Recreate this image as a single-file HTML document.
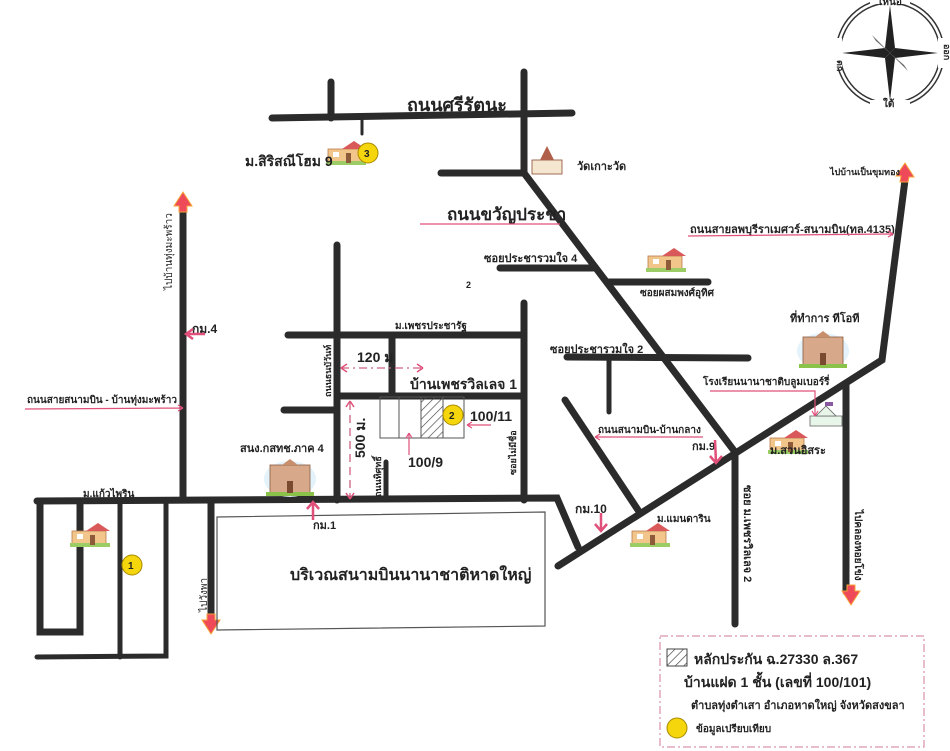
<!DOCTYPE html>
<html><head><meta charset="utf-8"><style>
html,body{margin:0;padding:0;background:#fff}
svg{display:block}
text{font-family:"Liberation Sans","Noto Sans CJK SC","WenQuanYi Zen Hei",sans-serif;fill:#222}
.r{stroke:#2b2b2b;stroke-width:7;stroke-linecap:round;fill:none}
.t{stroke:#2b2b2b;stroke-width:5;stroke-linecap:round;fill:none}
.p{stroke:#e0507a;stroke-width:1.2;fill:none}
.pa{stroke:#e0507a;stroke-width:2.5;fill:none}
</style></head><body>
<svg width="950" height="751" viewBox="0 0 950 751" xmlns="http://www.w3.org/2000/svg">
<defs>
<pattern id="h" width="6" height="6" patternUnits="userSpaceOnUse" patternTransform="rotate(45)"><line x1="0" y1="0" x2="0" y2="6" stroke="#444" stroke-width="1.3"/></pattern>
<g id="house"><rect x="0" y="6" width="34" height="14" fill="#f2c58a" stroke="#b87a4a" stroke-width="0.8"/><polygon points="14,6 26,-2 38,6" fill="#d9585a"/><rect x="-2" y="18" width="40" height="4" fill="#9ccc65"/><rect x="5" y="9" width="6" height="5" fill="#fff"/><rect x="18" y="10" width="5" height="10" fill="#8d5a3a"/></g>
<g id="bldg"><ellipse cx="20" cy="14" rx="26" ry="18" fill="#e3f2fb"/><rect x="0" y="0" width="40" height="28" fill="#d7a98a" stroke="#8a5a40" stroke-width="0.8"/><polygon points="12,0 20,-6 28,0" fill="#c98f6d"/><rect x="-4" y="27" width="48" height="4" fill="#8bc34a"/><rect x="17" y="16" width="6" height="12" fill="#7a4a30"/></g>
</defs>

<circle cx="890" cy="53" r="54" fill="none" stroke="#333" stroke-width="1.5"/>
<circle cx="890" cy="53" r="50" fill="none" stroke="#333" stroke-width="1.5"/>
<rect x="870" y="-6" width="40" height="10" fill="#fff"/><rect x="870" y="100" width="40" height="10" fill="#fff"/>
<rect x="832" y="38" width="10" height="30" fill="#fff"/><rect x="938" y="38" width="10" height="30" fill="#fff"/>
<polygon points="890,5 895,48 890,53 885,48" fill="#222"/><polygon points="890,101 895,58 890,53 885,58" fill="#222"/>
<polygon points="842,53 885,48 890,53 885,58" fill="#222"/><polygon points="938,53 895,48 890,53 895,58" fill="#222"/>
<polygon points="890,53 872,35 876,41" fill="#666"/><polygon points="890,53 908,71 904,65" fill="#666"/>
<text x="879" y="5" font-size="10" font-weight="bold">เหนือ</text>
<text x="883" y="107" font-size="10" font-weight="bold">ใต้</text>
<text transform="translate(837,60) rotate(90)" font-size="9" font-weight="bold">ตก</text>
<text transform="translate(944,44) rotate(90)" font-size="9" font-weight="bold">ออก</text>

<path class="r" d="M272 118 L572 113"/>
<path class="r" d="M331 82 L331 118"/>
<path class="t" d="M362 118 L362 134" style="stroke-width:3"/>
<path class="r" d="M524 72 L524 173 L441 173"/>
<path class="r" d="M524 173 L735 452"/>
<path class="r" d="M500 268 L593 268"/>
<path class="r" d="M609 282 L708 282"/>
<path class="r" d="M567 357 L748 358"/>
<path class="t" d="M609 358 L609 412"/>
<path class="r" d="M565 400 L638 510"/>
<path class="r" d="M558 566 L882 360 L905 180"/>
<path class="r" d="M735 452 L735 624"/>
<path class="r" d="M846 384 L846 592"/>

<path class="r" d="M337 245 L337 500"/>
<path class="r" d="M288 335 L522 335"/>
<path class="r" d="M524 303 L524 500"/>
<path class="r" d="M392 335 L392 393"/>
<path class="r" d="M337 396 L524 396"/>
<path class="r" d="M284 410 L337 410"/>
<path class="t" d="M386 462 L386 500"/>

<path class="r" d="M37 501 L557 498 L578 547"/>
<path class="r" d="M183 210 L183 500"/>
<path class="r" d="M40 503 L40 632 L80 632 L80 503"/>
<path class="t" d="M120 503 L120 657"/>
<path class="t" d="M37 657 L166 656 L166 503"/>
<path class="r" d="M211 503 L211 620"/>

<polygon points="183,192 174,206 179,206 179,212 187,212 187,206 192,206" fill="#ef4a5a" stroke="#f7a436" stroke-width="1"/>
<polygon points="905,163 896,176 901,176 900,182 908,182 909,177 914,177" fill="#ef4a5a" stroke="#f7a436" stroke-width="1"/>
<polygon points="211,634 202,620 207,620 207,614 215,614 215,620 220,620" fill="#ef4a5a" stroke="#f7a436" stroke-width="1"/>
<polygon points="851,605 842,591 847,591 847,585 855,585 855,591 860,591" fill="#ef4a5a" stroke="#f7a436" stroke-width="1"/>

<path d="M217 517 L545 512 L545 626 L217 630 Z" fill="none" stroke="#555" stroke-width="1.2"/>
<text x="290" y="580" font-size="16" font-weight="bold">บริเวณสนามบินนานาชาติหาดใหญ่</text>

<rect x="421" y="397" width="22" height="41" fill="url(#h)"/>
<rect x="380" y="397" width="84" height="41" fill="none" stroke="#555" stroke-width="1"/>
<path d="M399 397V438M421 397V438M443 397V438" stroke="#555" stroke-width="1"/>
<circle cx="453" cy="415" r="10" fill="#f5d50c" stroke="#a88a00" stroke-width="1"/><text x="449" y="419" font-size="10" font-weight="bold">2</text>
<circle cx="132" cy="565" r="10" fill="#f5d50c" stroke="#a88a00" stroke-width="1"/><text x="128" y="569" font-size="10" font-weight="bold">1</text>
<use href="#house" x="328" y="143"/>
<circle cx="368" cy="153" r="10" fill="#f5d50c" stroke="#a88a00" stroke-width="1"/><text x="364" y="157" font-size="10" font-weight="bold">3</text>
<path class="p" d="M467 425 L491 425 M467 425 l5 -3 M467 425 l5 3"/>
<text x="470" y="421" font-size="14" font-weight="bold">100/11</text>
<path class="p" d="M409 455 L409 433 M409 433 l-3 5 M409 433 l3 5"/>
<text x="408" y="467" font-size="14" font-weight="bold">100/9</text>

<path d="M341 368 L423 368" stroke="#d06080" stroke-width="1.3" stroke-dasharray="8,4,2,4"/>
<path class="p" d="M341 368 l6 -4 M341 368 l6 4 M423 368 l-6 -4 M423 368 l-6 4" style="stroke-width:1.5"/>
<text x="357" y="362" font-size="14" font-weight="bold">120 ม</text>
<path d="M350 402 L350 498" stroke="#d06080" stroke-width="1.3" stroke-dasharray="8,5"/>
<path class="p" d="M350 401 l-4 6 M350 401 l4 6 M350 499 l-4 -6 M350 499 l4 -6" style="stroke-width:1.5"/>
<text transform="translate(365,458) rotate(-90)" font-size="14" font-weight="bold">500 ม.</text>

<use href="#house" x="648" y="250"/>
<use href="#house" x="72" y="525"/>
<use href="#house" x="632" y="525"/>
<use href="#house" x="770" y="432"/>
<use href="#bldg" x="270" y="465"/>
<use href="#bldg" x="803" y="337"/>
<g><rect x="532" y="160" width="30" height="14" fill="#f5e6d0" stroke="#8a4a30" stroke-width="0.8"/><polygon points="540,160 547,146 554,160" fill="#b0604a"/></g>
<g><rect x="810" y="416" width="32" height="10" fill="#e8f5e9" stroke="#666" stroke-width="0.8"/><polygon points="816,416 826,406 836,416" fill="#e8f5e9" stroke="#666" stroke-width="0.8"/><rect x="825" y="402" width="8" height="4" fill="#8a5aa0"/></g>

<text x="407" y="111" font-size="18" font-weight="bold">ถนนศรีรัตนะ</text>
<text x="245" y="166" font-size="14" font-weight="bold">ม.สิริสณีโฮม 9</text>
<text x="577" y="170" font-size="11" font-weight="bold">วัดเกาะวัด</text>
<text x="447" y="220" font-size="17" font-weight="bold">ถนนขวัญประชา</text>
<path class="p" d="M420 224 L560 224"/>
<text x="830" y="175" font-size="9" font-weight="bold">ไปบ้านเป็นขุมทอง</text>
<text x="690" y="233" font-size="11" font-weight="bold">ถนนสายลพบุรีราเมศวร์-สนามบิน(ทล.4135)</text>
<path class="p" d="M688 236 L893 234 M893 234 l-5 -3 M893 234 l-5 3"/>
<text x="484" y="262" font-size="11" font-weight="bold">ซอยประชารวมใจ 4</text>
<text x="640" y="296" font-size="10" font-weight="bold">ซอยผสมพงศ์อุทิศ</text>
<text x="466" y="288" font-size="9" font-weight="bold">2</text>
<text x="790" y="322" font-size="11" font-weight="bold">ที่ทำการ ทีโอที</text>
<text x="550" y="353" font-size="11" font-weight="bold">ซอยประชารวมใจ 2</text>
<text x="703" y="385" font-size="10" font-weight="bold">โรงเรียนนานาชาติบลูมเบอร์รี่</text>
<path class="p" d="M710 391 L815 391 L815 416 M815 416 l-3 -5 M815 416 l3 -5"/>
<text x="598" y="433" font-size="10" font-weight="bold">ถนนสนามบิน-บ้านกลาง</text>
<path class="p" d="M703 437 L595 437 M595 437 l5 -3 M595 437 l5 3"/>
<text x="692" y="450" font-size="11" font-weight="bold">กม.9</text>
<path class="pa" d="M715 440 L716 462 M710 456 L716 463 L722 456"/>
<text x="770" y="454" font-size="11" font-weight="bold">ม.สวนอิสระ</text>
<text x="575" y="513" font-size="12" font-weight="bold">กม.10</text>
<path class="pa" d="M601 513 L601 530 M595 524 L601 531 L607 524"/>
<text x="657" y="522" font-size="10" font-weight="bold">ม.แมนดาริน</text>
<text transform="translate(744,485) rotate(90)" font-size="11" font-weight="bold">ซอย ม.เพชรวิลเลจ 2</text>
<text transform="translate(855,510) rotate(90)" font-size="10" font-weight="bold">ไปคลองหอยโข่ง</text>
<text transform="translate(172,290) rotate(-90)" font-size="10">ไปบ้านทุ่งมะพร้าว</text>
<text x="192" y="333" font-size="12" font-weight="bold">กม.4</text>
<path class="pa" d="M205 334 L187 334 M193 329 L186 334 L193 339"/>
<text x="27" y="403" font-size="10" font-weight="bold">ถนนสายสนามบิน - บ้านทุ่งมะพร้าว</text>
<path class="p" d="M25 409 L183 408 M183 408 l-5 -3 M183 408 l-5 3"/>
<text x="240" y="452" font-size="11" font-weight="bold">สนง.กสทช.ภาค 4</text>
<text x="83" y="497" font-size="10" font-weight="bold">ม.แก้วไพริน</text>
<text transform="translate(207,612) rotate(-90)" font-size="10">ไปวังพา</text>
<path class="pa" d="M313 520 L313 503 M307 509 L313 502 L319 509"/>
<text x="313" y="529" font-size="11" font-weight="bold">กม.1</text>
<text transform="translate(331,397) rotate(-90)" font-size="9" font-weight="bold">ถนนธนบัวันท์</text>
<text transform="translate(381,497) rotate(-90)" font-size="9" font-weight="bold">ถนนทิศุทธิ์</text>
<text transform="translate(516,475) rotate(-90)" font-size="9" font-weight="bold">ซอยไม่มีชื่อ</text>
<text x="395" y="329" font-size="10" font-weight="bold">ม.เพชรประชารัฐ</text>
<text x="410" y="389" font-size="14" font-weight="bold">บ้านเพชรวิลเลจ 1</text>

<rect x="660" y="636" width="264" height="111" fill="none" stroke="#d07a90" stroke-width="1" stroke-dasharray="8,3,2,3"/>
<rect x="667" y="649" width="20" height="17" fill="url(#h)" stroke="#444" stroke-width="1"/>
<text x="694" y="664" font-size="14" font-weight="bold">หลักประกัน ฉ.27330 ล.367</text>
<text x="684" y="687" font-size="14" font-weight="bold">บ้านแฝด 1 ชั้น (เลขที่ 100/101)</text>
<text x="691" y="709" font-size="11" font-weight="bold">ตำบลทุ่งตำเสา อำเภอหาดใหญ่ จังหวัดสงขลา</text>
<circle cx="677" cy="728" r="10" fill="#f5d50c" stroke="#a88a00" stroke-width="1"/>
<text x="696" y="732" font-size="10" font-weight="bold">ข้อมูลเปรียบเทียบ</text>
</svg>
</body></html>
